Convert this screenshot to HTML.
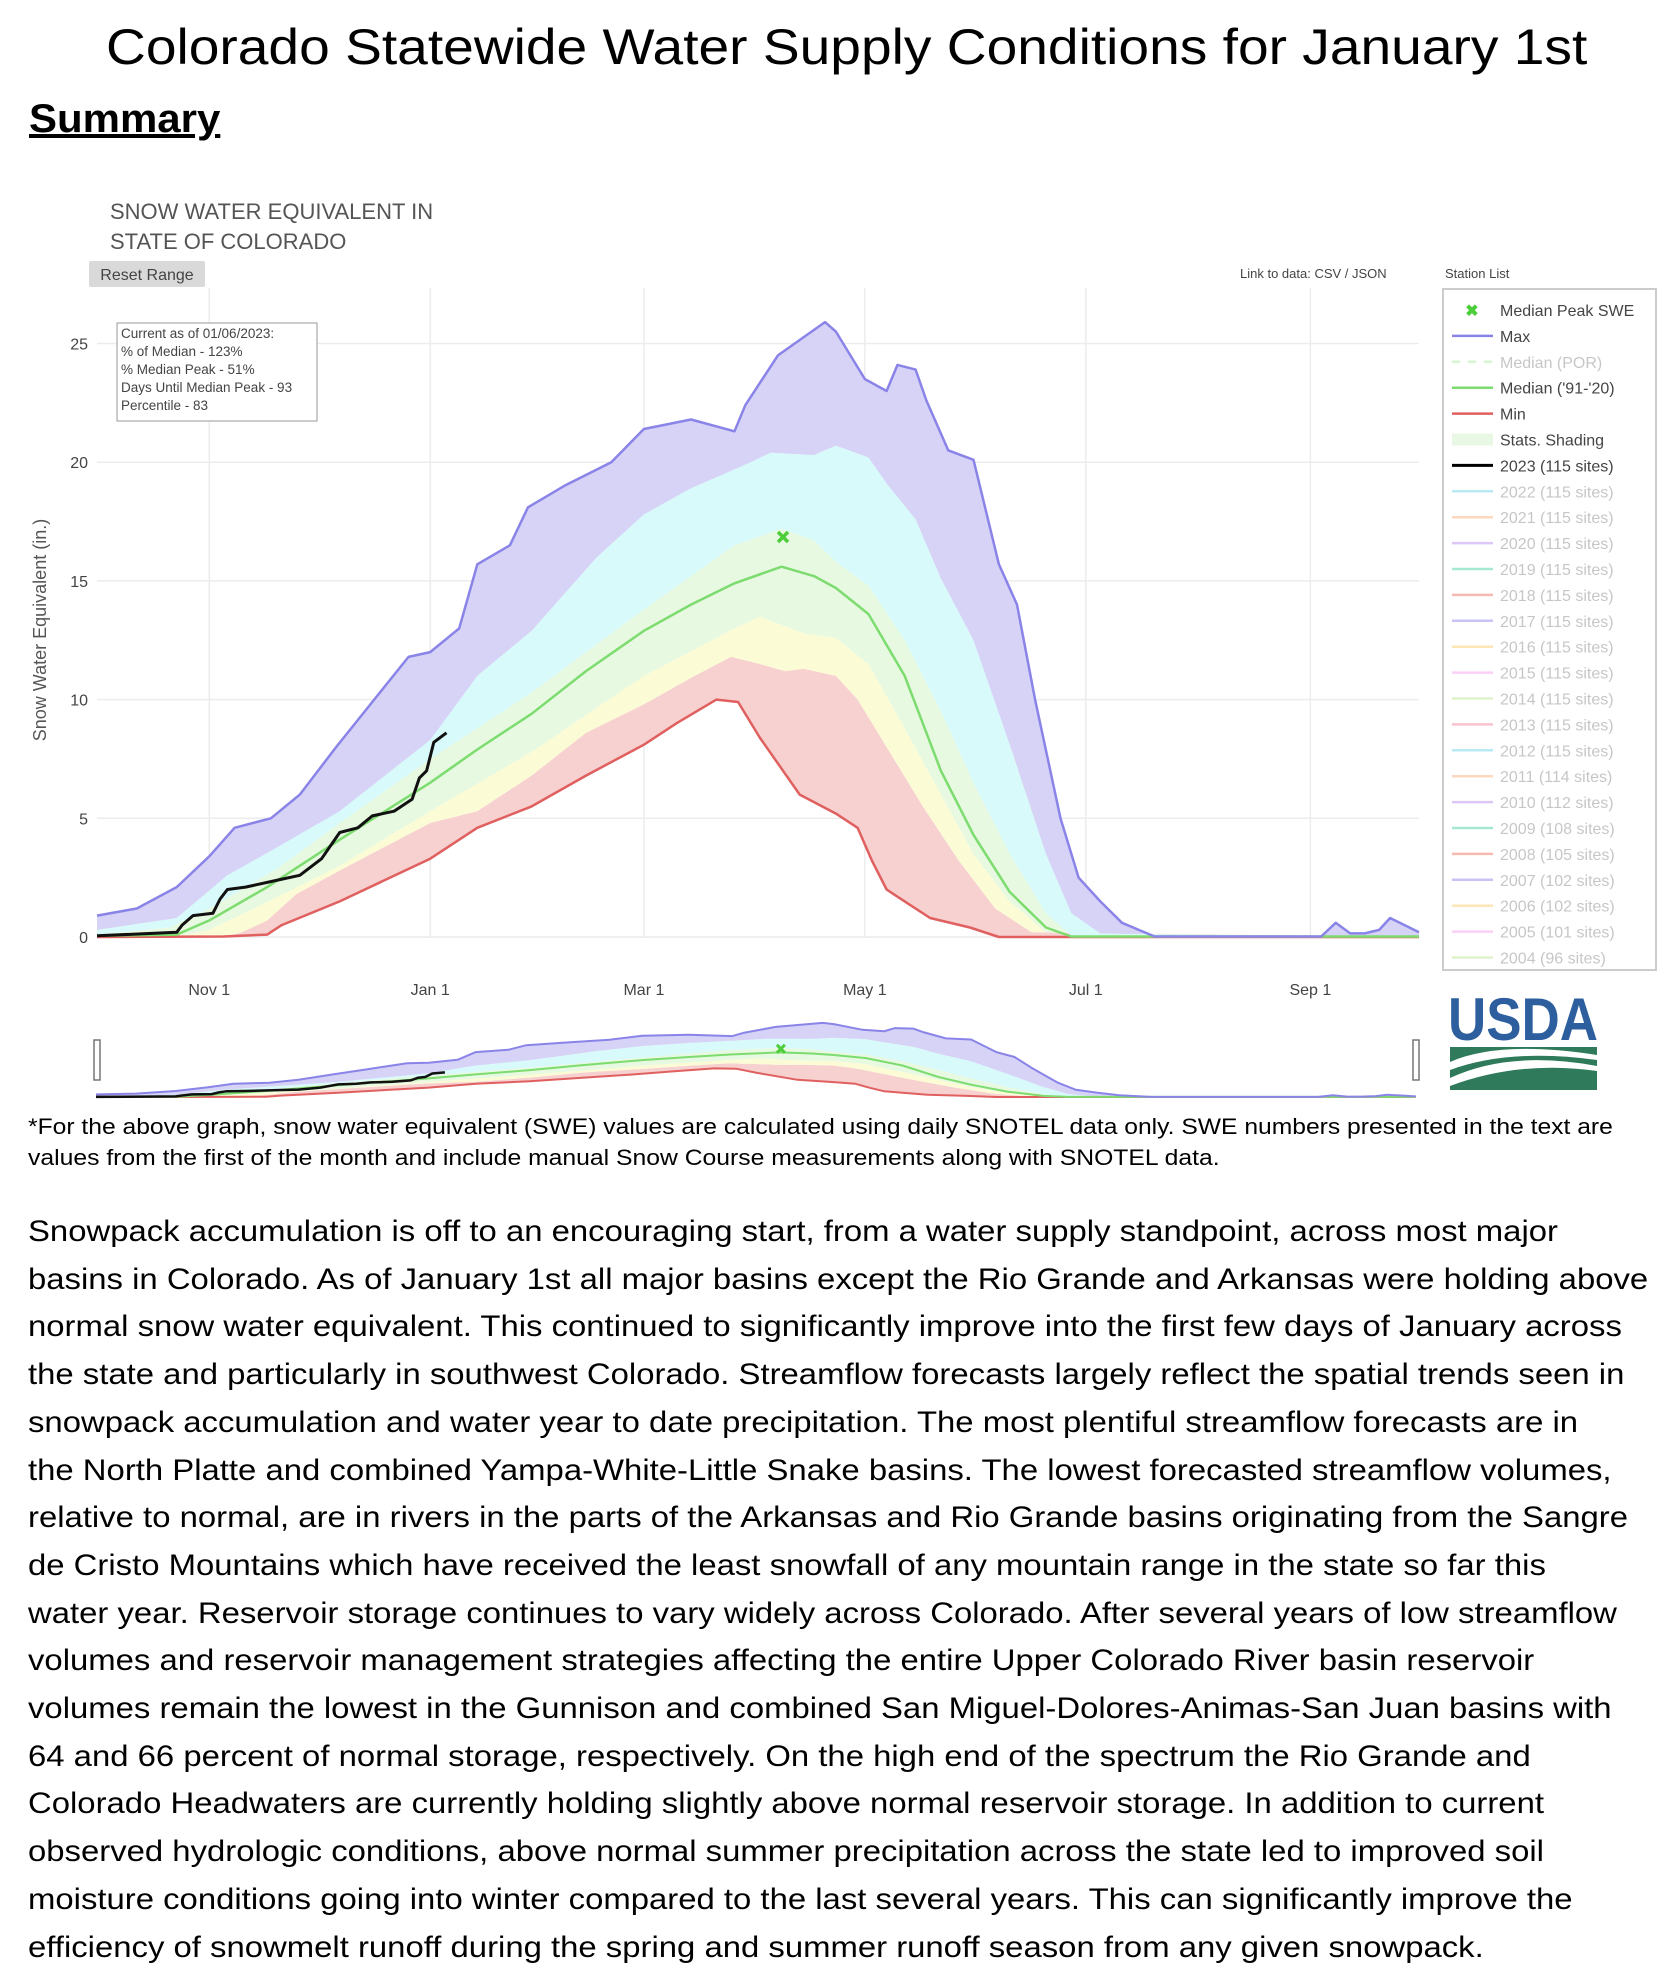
<!DOCTYPE html>
<html><head><meta charset="utf-8">
<style>
html,body{margin:0;padding:0;background:#fff;}
body{width:1670px;height:1970px;position:relative;overflow:hidden;font-family:"Liberation Sans",sans-serif;}
.ln{position:absolute;left:0;top:0;white-space:nowrap;transform-origin:0 50%;color:#000;}
#chart{position:absolute;left:0;top:0;}
</style></head>
<body>
<div id="doc-title" class="ln" style="font-size:50px;">Colorado Statewide Water Supply Conditions for January 1st</div>
<div id="summary" class="ln" style="font-size:40px;font-weight:bold;text-decoration:underline;">Summary</div>
<div id="fn1" class="ln fn" style="font-size:22px;">*For the above graph, snow water equivalent (SWE) values are calculated using daily SNOTEL data only. SWE numbers presented in the text are</div>
<div id="fn2" class="ln fn" style="font-size:22px;">values from the first of the month and include manual Snow Course measurements along with SNOTEL data.</div>
<div id="body">
<div class="ln bl">Snowpack accumulation is off to an encouraging start, from a water supply standpoint, across most major</div>
<div class="ln bl">basins in Colorado. As of January 1st all major basins except the Rio Grande and Arkansas were holding above</div>
<div class="ln bl">normal snow water equivalent. This continued to significantly improve into the first few days of January across</div>
<div class="ln bl">the state and particularly in southwest Colorado. Streamflow forecasts largely reflect the spatial trends seen in</div>
<div class="ln bl">snowpack accumulation and water year to date precipitation. The most plentiful streamflow forecasts are in</div>
<div class="ln bl">the North Platte and combined Yampa-White-Little Snake basins. The lowest forecasted streamflow volumes,</div>
<div class="ln bl">relative to normal, are in rivers in the parts of the Arkansas and Rio Grande basins originating from the Sangre</div>
<div class="ln bl">de Cristo Mountains which have received the least snowfall of any mountain range in the state so far this</div>
<div class="ln bl">water year. Reservoir storage continues to vary widely across Colorado. After several years of low streamflow</div>
<div class="ln bl">volumes and reservoir management strategies affecting the entire Upper Colorado River basin reservoir</div>
<div class="ln bl">volumes remain the lowest in the Gunnison and combined San Miguel-Dolores-Animas-San Juan basins with</div>
<div class="ln bl">64 and 66 percent of normal storage, respectively. On the high end of the spectrum the Rio Grande and</div>
<div class="ln bl">Colorado Headwaters are currently holding slightly above normal reservoir storage. In addition to current</div>
<div class="ln bl">observed hydrologic conditions, above normal summer precipitation across the state led to improved soil</div>
<div class="ln bl">moisture conditions going into winter compared to the last several years. This can significantly improve the</div>
<div class="ln bl">efficiency of snowmelt runoff during the spring and summer runoff season from any given snowpack.</div>
</div>

<svg id="chart" width="1670" height="1100" xmlns="http://www.w3.org/2000/svg" font-family="Liberation Sans, sans-serif">
  <text x="110" y="219" font-size="22" fill="#555">SNOW WATER EQUIVALENT IN</text>
  <text x="110" y="249" font-size="22" fill="#555">STATE OF COLORADO</text>
  <g>
    <rect x="89" y="261" width="116" height="26" fill="#d9d9d9" rx="2"/>
    <text x="147" y="280" font-size="16" fill="#444" text-anchor="middle">Reset Range</text>
  </g>
  <text x="1240" y="278" font-size="13" fill="#444">Link to data: CSV / JSON</text>
  <text x="1445" y="278" font-size="13" fill="#444">Station List</text>
  <g id="grid"></g>
  <g id="bands"></g>
  <g id="lines"></g>
  <g id="axes"></g>
  <g>
    <rect x="117" y="323" width="200" height="98" fill="#fff" stroke="#999" stroke-width="1"/>
    <text font-size="13.5" fill="#444">
      <tspan x="121" y="338">Current as of 01/06/2023:</tspan>
      <tspan x="121" y="356">% of Median - 123%</tspan>
      <tspan x="121" y="374">% Median Peak - 51%</tspan>
      <tspan x="121" y="392">Days Until Median Peak - 93</tspan>
      <tspan x="121" y="410">Percentile - 83</tspan>
    </text>
  </g>
  <text transform="translate(46,630) rotate(-90)" font-size="18" fill="#555" text-anchor="middle">Snow Water Equivalent (in.)</text>
  <g id="legend">
    <rect x="1443" y="289" width="213" height="681" fill="#fff" stroke="#ccc" stroke-width="2"/>
  </g>
  <g id="slider"></g>
  <g>
    <text x="1448" y="1040" font-size="60" font-weight="bold" fill="#2d5f9e" textLength="150" lengthAdjust="spacingAndGlyphs">USDA</text>
    <rect x="1450" y="1047" width="147" height="43" fill="#2e7a5b"/>
    <path d="M1450 1062 Q1500 1040 1597 1055 L1597 1060 Q1510 1048 1450 1070 Z" fill="#fff"/>
    <path d="M1450 1078 Q1510 1050 1597 1066 L1597 1071 Q1520 1060 1450 1086 Z" fill="#fff"/>
  </g>
</svg>

<script>
// ---- chart data (day offset from Oct 1, SWE inches) ----
const maxDays = [0,11,22,31,38,48,56,66,76,86,92,100,105,114,119,129,142,151,164,176,179,188,201,204,212,218,221,226,229,235,242,249,254,259,266,271,277,283,292,338,342,346,350,354,357,365];
const maxVals = [0.9,1.2,2.1,3.4,4.6,5.0,6.0,8.0,9.9,11.8,12.0,13.0,15.7,16.5,18.1,19.0,20.0,21.4,21.8,21.3,22.4,24.5,25.9,25.5,23.5,23.0,24.1,23.9,22.6,20.5,20.1,15.7,14.0,10.0,5.0,2.5,1.5,0.6,0.02,0.02,0.6,0.15,0.15,0.3,0.8,0.2];
const p90Days = [0,22,36,50,67,92,105,120,138,151,164,179,186,198,204,213,218,226,233,242,252,262,269,277,365];
const p90Vals = [0.3,0.8,2.6,3.8,5.3,8.3,11.0,12.9,16.0,17.8,18.9,19.9,20.4,20.3,20.7,20.2,19.1,17.6,15.1,12.5,8.1,3.5,1.0,0.15,0];
const p70Days = [0,20,31,50,67,92,120,151,176,189,198,204,213,223,233,242,252,262,269,365];
const p70Vals = [0.1,0.4,1.2,2.9,4.8,7.5,10.3,13.8,16.5,17.2,16.7,15.8,14.8,12.5,9.5,6.5,3.5,1.0,0.05,0];
const medDays = [0,22,31,47,67,92,105,120,135,151,164,176,189,198,204,213,223,233,242,252,262,269,365];
const medVals = [0.05,0.1,0.7,2.1,4.1,6.5,7.9,9.4,11.2,12.9,14.0,14.9,15.6,15.2,14.7,13.6,11.0,7.0,4.3,1.9,0.4,0.02,0.02];
const p30Days = [0,25,31,50,67,92,120,151,176,183,195,204,213,223,233,242,252,262,365];
const p30Vals = [0,0.1,0.3,1.7,3.0,5.3,7.8,11.0,13.0,13.5,12.8,12.6,11.5,8.8,6.0,3.5,1.5,0.2,0];
const p10Days = [0,35,40,47,55,67,92,105,120,135,151,165,175,183,190,195,204,210,218,228,238,248,258,365];
const p10Vals = [0,0,0.2,0.7,1.8,2.8,4.8,5.3,6.8,8.6,9.8,11.0,11.8,11.5,11.2,11.3,11.0,10.0,8.0,5.5,3.2,1.2,0.2,0];
const minDays = [0,35,47,51,67,92,105,120,135,151,160,171,177,183,194,204,210,214,218,223,230,241,249,365];
const minVals = [0,0.02,0.1,0.5,1.5,3.3,4.6,5.5,6.8,8.1,9.0,10.0,9.9,8.4,6.0,5.2,4.6,3.2,2.0,1.5,0.8,0.4,0,0];
const wy2023Days = [0,22,23.5,26.5,32,34,36,41,50,56,62,67,72,76,82,87,89,91,93,96.5];
const wy2023Vals = [0.05,0.2,0.5,0.9,1.0,1.6,2.0,2.1,2.4,2.6,3.3,4.4,4.6,5.1,5.3,5.8,6.7,7.0,8.2,8.6];
const peakDay = [189.4];
const peakVal = [16.85];
const yTicks = [0,5,10,15,20,25];
const xTickDays = [31,92,151,212,273,335];
const xTickLabels = ["Nov  1","Jan  1","Mar  1","May  1","Jul  1","Sep  1"];
const legendLabels = ["Median Peak SWE","Max","Median (POR)","Median ('91-'20)","Min","Stats. Shading","2023 (115 sites)","2022 (115 sites)","2021 (115 sites)","2020 (115 sites)","2019 (115 sites)","2018 (115 sites)","2017 (115 sites)","2016 (115 sites)","2015 (115 sites)","2014 (115 sites)","2013 (115 sites)","2012 (115 sites)","2011 (114 sites)","2010 (112 sites)","2009 (108 sites)","2008 (105 sites)","2007 (102 sites)","2006 (102 sites)","2005 (101 sites)","2004 (96 sites)"];
const legendColors = ["#4ccd3a","#8a84e8","#b8ecb0","#7ddc6f","#e06060","#e8f8e4","#000","#7fdaf0","#f9b98a","#c39bef","#5ed6b0","#f08070","#9a94ee","#fbd27a","#f7aaf0","#c5e8a0","#f592a8","#7fdaf0","#f9b98a","#c39bef","#5ed6b0","#f08070","#9a94ee","#fbd27a","#f7aaf0","#c5e8a0"];

const NS = "http://www.w3.org/2000/svg";
function mk(tag, attrs, parent){const e=document.createElementNS(NS,tag);for(const k in attrs)e.setAttribute(k,attrs[k]);parent.appendChild(e);return e;}
function interp(D,V,d){if(d<=D[0])return V[0];for(let i=1;i<D.length;i++){if(d<=D[i]){const t=(d-D[i-1])/(D[i]-D[i-1]);return V[i-1]+t*(V[i]-V[i-1]);}}return V[V.length-1];}

function drawChart(xs, ys, bandsG, linesG, lw, main){
  const bandDefs=[[minDays,minVals,p10Days,p10Vals,"#f7d0d0"],[p10Days,p10Vals,p30Days,p30Vals,"#fbfbd6"],[p30Days,p30Vals,p70Days,p70Vals,"#e7f9e1"],[p70Days,p70Vals,p90Days,p90Vals,"#d8fafa"],[p90Days,p90Vals,maxDays,maxVals,"#d6d3f7"]];
  const names=["band-min-p10","band-p10-p30","band-p30-p70","band-p70-p90","band-p90-max"];
  bandDefs.forEach((b,i)=>{
    let top=[],bot=[];
    for(let d=0;d<=365;d+=1){
      const lo=interp(b[0],b[1],d), hi=Math.max(lo,interp(b[2],b[3],d));
      top.push(xs(d).toFixed(1)+","+ys(hi).toFixed(1));
      bot.unshift(xs(d).toFixed(1)+","+ys(lo).toFixed(1));
    }
    const p=mk("polygon",{points:top.concat(bot).join(" "),fill:b[4]},bandsG);
    
    
  });
  const lineDefs=[[minDays,minVals,"#e06060","min-line"],[medDays,medVals,"#7ddc6f","median-line"],[maxDays,maxVals,"#8a84e8","max-line"],[wy2023Days,wy2023Vals,"#111","wy2023-line"]];
  lineDefs.forEach(l=>{
    const pts=l[0].map((d,i)=>xs(d).toFixed(1)+","+ys(l[1][i]).toFixed(1)).join(" ");
    const pl=mk("polyline",{points:pts,fill:"none",stroke:l[2],"stroke-width":l[3]==="wy2023-line"?lw+0.5:lw,"stroke-linejoin":"round"},linesG);
    
    
  });
  const px=xs(peakDay[0]), py=ys(peakVal[0]), s=main?5:4;
  const m=mk("path",{d:`M${px-s} ${py-s}L${px+s} ${py+s}M${px+s} ${py-s}L${px-s} ${py+s}`,stroke:"#4ccd3a","stroke-width":main?3.5:3},linesG);
  
  
}

// main plot scales
const X0=97, XD=3.622, Y0=937, YU=23.74;
const xs=d=>X0+d*XD, ys=v=>Y0-v*YU;
const grid=document.getElementById("grid"), axes=document.getElementById("axes");
yTicks.forEach(t=>{
  const g=mk("line",{x1:97,x2:1419,y1:ys(t),y2:ys(t),stroke:"#ececec","stroke-width":1.5},grid);
  
  
  const tx=mk("text",{x:88,y:ys(t)+6,"font-size":16,fill:"#444","text-anchor":"end"},axes);
  tx.textContent=t;
  
  
});
xTickDays.forEach((d,i)=>{
  const g=mk("line",{x1:xs(d),x2:xs(d),y1:288,y2:938,stroke:"#ececec","stroke-width":1.5},grid);
  
  
  const tx=mk("text",{x:xs(d),y:995,"font-size":16,fill:"#444","text-anchor":"middle","xml:space":"preserve"},axes);
  tx.textContent=xTickLabels[i];
  
  
});
drawChart(xs,ys,document.getElementById("bands"),document.getElementById("lines"),2.5,true);

// range slider
const slider=document.getElementById("slider");
const sb=mk("g",{},slider), sl=mk("g",{},slider);
drawChart(d=>96+d*3.616, v=>1097-v*2.86, sb, sl, 2, false);
[94,1413].forEach(x=>{
  const h=mk("rect",{x:x,y:1040,width:6,height:40,fill:"#fff",stroke:"#777","stroke-width":1.5},slider);
  
  
});

// legend
const leg=document.getElementById("legend");
legendLabels.forEach((lab,i)=>{
  const y=310+i*25.9;
  const active=[0,1,3,4,5,6].includes(i);
  const g=mk("g",{opacity:active?1:0.55},leg);
  
  
  if(i===0){mk("text",{x:1472,y:y+6,"font-size":16,fill:legendColors[i],"text-anchor":"middle","font-weight":"bold"},g).textContent="✖";}
  else if(i===5){mk("rect",{x:1452,y:y-6,width:41,height:12,fill:legendColors[i]},g);}
  else{mk("line",{x1:1452,x2:1493,y1:y,y2:y,stroke:legendColors[i],"stroke-width":i===6?3:2.5,"stroke-dasharray":i===2?"8,8":"none"},g);}
  const t=mk("text",{x:1500,y:y+6,"font-size":16,fill:active?"#444":"#999"},g);
  t.textContent=lab;
});

// text layout with width fitting
function place(el,left,cy,width){
  el.style.left=left+"px";
  el.style.top=(cy-el.offsetHeight/2)+"px";
  if(width){const w=el.scrollWidth;el.style.transform="scaleX("+(width/w)+")";}
}
place(document.getElementById("doc-title"),106,47,1481);
place(document.getElementById("summary"),29,119,191);
place(document.getElementById("fn1"),28,1127,1585);
place(document.getElementById("fn2"),28,1158,1192);
const bls=document.querySelectorAll(".bl");
let maxw=0;
bls.forEach(b=>{b.style.fontSize="30px";maxw=Math.max(maxw,b.scrollWidth);});
const sc=1620/maxw;
bls.forEach((b,i)=>{
  b.style.left="28px";
  b.style.top=(1232+i*47.7-b.offsetHeight/2)+"px";
  b.style.transform="scaleX("+sc+")";
});
</script>
</body></html>
